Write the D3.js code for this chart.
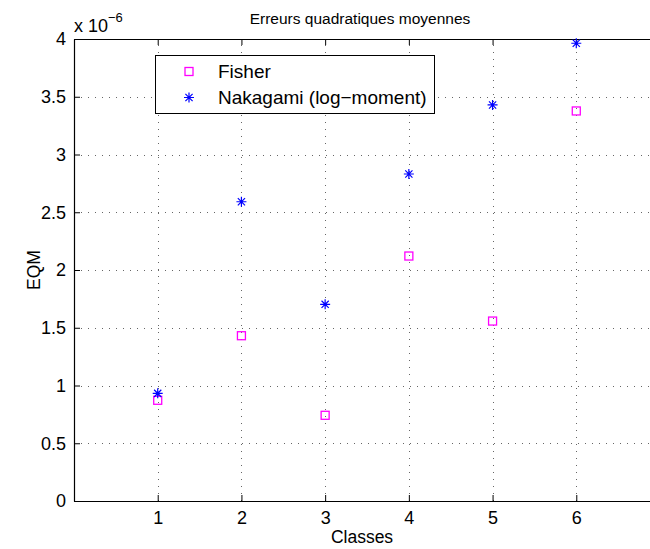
<!DOCTYPE html>
<html><head><meta charset="utf-8">
<script src="https://cdn.jsdelivr.net/npm/d3@7"></script>
<style>body{margin:0;background:#fff}svg{display:block}text{font-family:"Liberation Sans",Arial,sans-serif}</style>
</head><body>
<script>
const classes = [1, 2, 3, 4, 5, 6];
const fisher = [0.872, 1.431, 0.742, 2.121, 1.558, 3.377];
const nakagami = [0.932, 2.591, 1.703, 2.831, 3.429, 3.963];
const xTicks = [1, 2, 3, 4, 5, 6];
const yTicks = [0, 0.5, 1, 1.5, 2, 2.5, 3, 3.5, 4];
const seriesNames = ["Fisher", "Nakagami (log\u2212moment)"];

const W = 650, H = 549;
const svg = d3.select("body").append("svg").attr("width", W).attr("height", H);
const x = d3.scaleLinear().domain([0, 7]).range([74, 660]);
const y = d3.scaleLinear().domain([0, 4]).range([501, 39]);
const fs = 18;

// grid
const grid = svg.append("g").attr("stroke", "#666").attr("stroke-width", 1).attr("stroke-dasharray", "1,6");
grid.selectAll("line.v").data(xTicks).join("line")
  .attr("x1", d => Math.round(x(d)) + 0.5).attr("x2", d => Math.round(x(d)) + 0.5)
  .attr("y1", y(0)).attr("y2", y(4));
grid.selectAll("line.h").data(yTicks.slice(1, -1)).join("line")
  .attr("y1", d => Math.round(y(d)) + 0.5).attr("y2", d => Math.round(y(d)) + 0.5)
  .attr("x1", x(0)).attr("x2", x(7));

// axes
const xAxisB = d3.axisBottom(x).tickValues(xTicks).tickSizeInner(-6).tickSizeOuter(0).tickPadding(10).tickFormat(d3.format("d"));
const xAxisT = d3.axisTop(x).tickValues(xTicks).tickSizeInner(-6).tickSizeOuter(0).tickFormat("");
const yAxisL = d3.axisLeft(y).tickValues(yTicks).tickSizeInner(-6).tickSizeOuter(0).tickPadding(8).tickFormat(d3.format("~g"));
const gB = svg.append("g").attr("transform", `translate(0,${y(0)})`).call(xAxisB);
const gT = svg.append("g").attr("transform", `translate(0,${y(4)})`).call(xAxisT);
const gL = svg.append("g").attr("transform", `translate(${x(0)},0)`).call(yAxisL);
[gB, gT, gL].forEach(g => {
  g.select(".domain").attr("stroke", "#000").attr("stroke-width", 1.2);
  g.selectAll(".tick line").attr("stroke", "#000");
  g.selectAll("text").attr("font-size", fs).attr("fill", "#000").attr("font-family", '"Liberation Sans",Arial,sans-serif');
});

// exponent label
const ex = svg.append("text").attr("x", 74).attr("y", 32).attr("font-size", fs).attr("fill", "#000");
ex.append("tspan").text("x 10");
ex.append("tspan").attr("dy", -10).attr("font-size", 13).text("\u22126");

// title and labels
svg.append("text").attr("x", 360).attr("y", 24).attr("text-anchor", "middle").attr("font-size", 15.5).text("Erreurs quadratiques moyennes");
svg.append("text").attr("x", 362).attr("y", 543).attr("text-anchor", "middle").attr("font-size", 17.5).text("Classes");
svg.append("text").attr("transform", "translate(40,270) rotate(-90)").attr("text-anchor", "middle").attr("font-size", 17.5).text("EQM");

// markers
function square(g, cx, cy) {
  g.append("rect").attr("x", cx - 4).attr("y", cy - 4).attr("width", 8).attr("height", 8)
    .attr("fill", "none").attr("stroke", "#ff00ff").attr("stroke-width", 1.3);
}
function star(g, cx, cy) {
  const r = 5, d = 3.6;
  const p = `M${cx - r},${cy}L${cx + r},${cy}M${cx},${cy - r}L${cx},${cy + r}M${cx - d},${cy - d}L${cx + d},${cy + d}M${cx - d},${cy + d}L${cx + d},${cy - d}`;
  g.append("path").attr("d", p).attr("stroke", "#0000ff").attr("stroke-width", 1.2).attr("fill", "none");
}
const marks = svg.append("g");
classes.forEach((c, i) => square(marks, x(c), y(fisher[i])));
classes.forEach((c, i) => star(marks, x(c), y(nakagami[i])));

// legend
const lg = svg.append("g");
lg.append("rect").attr("x", 155.5).attr("y", 55.5).attr("width", 279).attr("height", 58)
  .attr("fill", "#fff").attr("stroke", "#000").attr("stroke-width", 1);
square(lg, 189, 71.5);
star(lg, 189, 97.5);
lg.append("text").attr("x", 218).attr("y", 71.5).attr("dy", "0.35em").attr("font-size", 19).text(seriesNames[0]);
lg.append("text").attr("x", 218).attr("y", 97.5).attr("dy", "0.35em").attr("font-size", 19).text(seriesNames[1]);
</script>
</body></html>
